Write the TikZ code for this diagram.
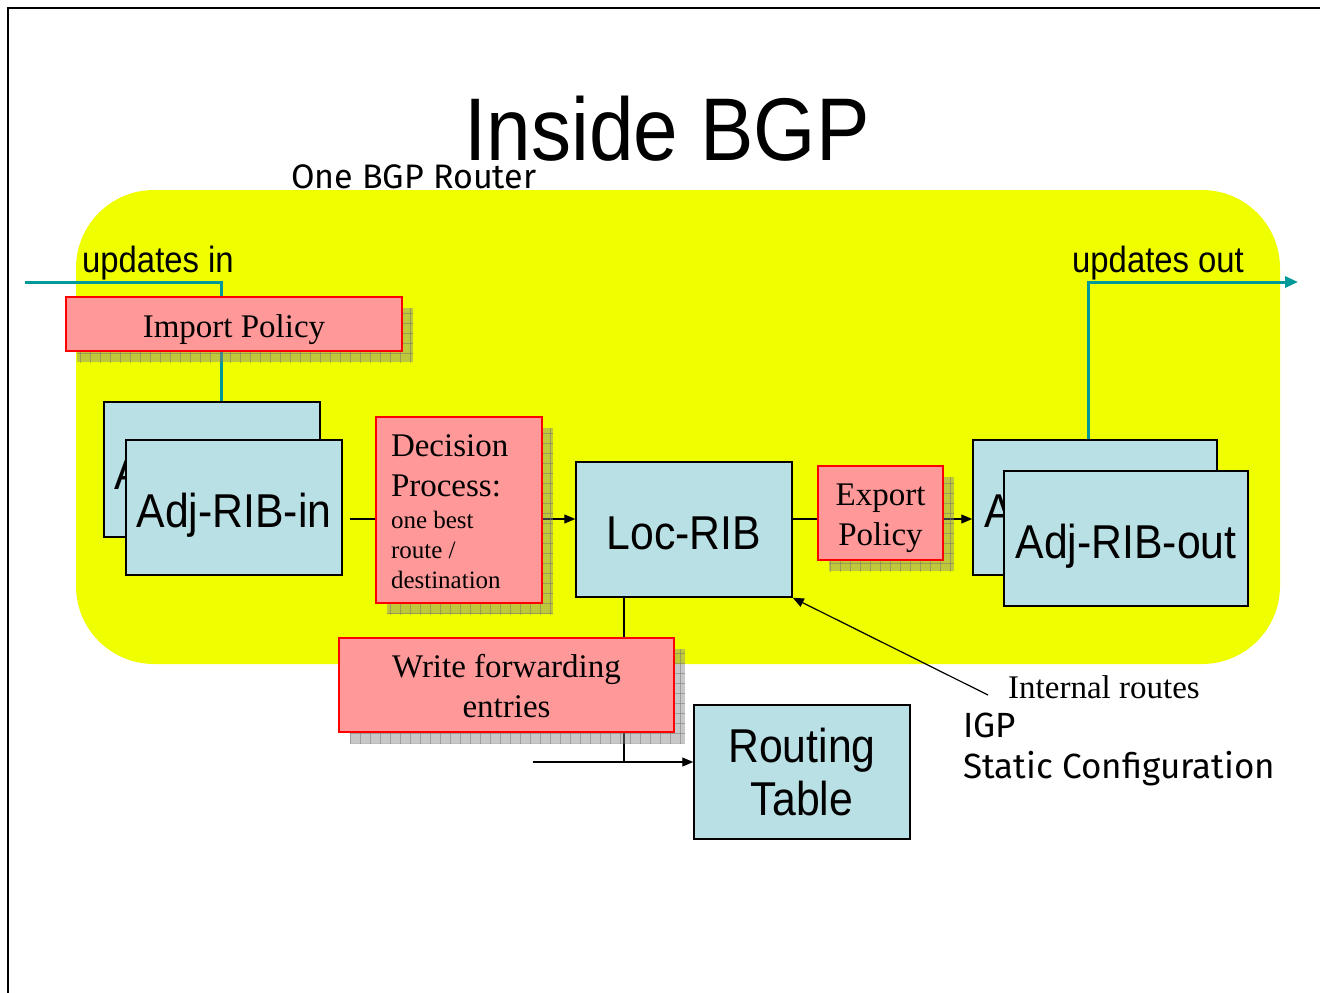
\documentclass[tikz,border=0pt]{standalone}
\usepackage{fontspec}
\usetikzlibrary{arrows.meta,shadows,patterns.meta}
\setmainfont{Liberation Serif}
\newfontfamily\tahoma[FakeStretch=0.9]{Liberation Sans}
\newfontfamily\comic{Fira Sans}

\definecolor{routeryellow}{RGB}{240,255,0}
\definecolor{policypink}{RGB}{255,153,153}
\definecolor{ribblue}{RGB}{185,224,228}
\definecolor{linkteal}{RGB}{0,153,153}
\definecolor{shadowgray}{RGB}{133,133,133}
\definecolor{gridgray}{RGB}{110,110,110}

\pgfdeclarelayer{back}
\pgfdeclarelayer{wires}
\pgfsetlayers{back,wires,main}

% invisible struts that fix the first and last line of two-line box texts
\newcommand{\topstrut}[1]{\rule{0pt}{#1}}
\newcommand{\botstrut}[1]{\rule[-#1]{0pt}{#1}}

\tikzset{
  policy/.style={draw=red, line width=1.5pt, fill=policypink,
    drop shadow={shadow xshift=11pt, shadow yshift=-11pt, fill=shadowgray, opacity=.45,
      postaction={pattern={Lines[distance=10pt,angle=0,line width=.9pt]}, pattern color=gridgray},
      postaction={pattern={Lines[distance=10pt,angle=90,line width=.9pt]}, pattern color=gridgray}},
    inner sep=0pt, align=center, font=\fontsize{33}{40}\selectfont},
  rib/.style={draw=black, line width=1.5pt, fill=ribblue, inner sep=0pt,
    align=center, font=\tahoma\fontsize{47.5}{53}\selectfont},
  ribone/.style={rib, text height=39pt, text depth=0pt},
  link/.style={draw=black, line width=1.2pt},
  linkarrow/.style={link, -{Triangle[length=11pt,width=9pt]}},
  tealwire/.style={draw=linkteal, line width=3pt},
  label/.style={inner sep=0pt, anchor=base west},
}

\begin{document}
\begin{tikzpicture}[x=1pt,y=-1pt]
  \useasboundingbox (0,0) rectangle (1320,993);

  % page, frame and router area
  \begin{pgfonlayer}{back}
    \fill[white] (0,0) rectangle (1320,993);
    \fill[routeryellow, rounded corners=78pt] (76,190) rectangle (1280,664);
  \end{pgfonlayer}
  \draw[line width=2pt] (1320,8) -- (8,8) -- (8,993);

  % titles and labels
  \node[inner sep=0pt, anchor=base, font=\tahoma\fontsize{89}{100}\selectfont] (title) at (667,160) {Inside BGP};
  \node[label, font=\comic\fontsize{34}{40}\selectfont] (router) at (291,188) {One BGP Router};
  \node[label, font=\tahoma\fontsize{36.5}{40}\selectfont] (updin) at (82,272) {updates in};
  \node[label, font=\tahoma\fontsize{36.5}{40}\selectfont] (updout) at (1072,272) {updates out};
  \node[label, font=\fontsize{33}{40}\selectfont] (internal) at (1008,698) {Internal routes};
  \node[label, font=\comic\fontsize{35}{40}\selectfont] (igp) at (963,737) {IGP};
  \node[label, font=\comic\fontsize{35}{40}\selectfont] (static) at (963,778) {Static Configuration};

  % boxes
  \node[policy, minimum width=336pt, minimum height=54pt, text height=26pt, text depth=0pt] (import) at (234,324) {Import Policy};
  \node[ribone, minimum width=216pt, minimum height=135pt] (adjinB) at (212,469.5) {Adj-RIB-in};
  \node[ribone, minimum width=216pt, minimum height=135pt] (adjin) at (234,507.5) {Adj-RIB-in};
  \node[policy, minimum width=166pt, minimum height=186pt, text width=136pt, align=flush left,
        text height=24pt, text depth=132pt] (decision) at (459,510)
    {\fontsize{33}{40}\selectfont Decision\par Process:\par
     \vskip 2pt
     \fontsize{25}{30}\selectfont one best\par route /\par destination\par};
  \node[ribone, minimum width=216pt, minimum height=135pt] (locrib) at (684,529.5) {Loc-RIB};
  \node[policy, minimum width=125pt, minimum height=94pt] (export) at (880.5,513)
    {\topstrut{32pt}Export\\Policy\botstrut{8pt}};
  \node[ribone, minimum width=244pt, minimum height=135pt] (adjoutB) at (1095,507.5) {Adj-RIB-out};
  \node[ribone, minimum width=244pt, minimum height=135pt] (adjout) at (1126,538.5) {Adj-RIB-out};
  \node[policy, minimum width=335pt, minimum height=94pt] (writefw) at (506.5,685)
    {\topstrut{32pt}Write forwarding\\entries\botstrut{8pt}};
  \node[rib, minimum width=216pt, minimum height=134pt] (rt) at (802,772)
    {\topstrut{40pt}Routing\\Table\botstrut{7pt}};

  % connector anchors
  \coordinate (axis) at (0,519);
  \coordinate (inStart) at (25,282);
  \coordinate (inCorner) at (221,282);
  \coordinate (outCorner) at (1088,282);
  \coordinate (outEnd) at (1298,282);
  \coordinate (wfDrop) at (624,762);
  \coordinate (rtFeed) at (533,762);
  \coordinate (igpEnd) at (988,695);

  \begin{pgfonlayer}{wires}
    \draw[tealwire] (inStart) -- (inCorner) -- (inCorner |- adjinB.north);
    \draw[tealwire, -{Triangle[length=13pt,width=11pt]}] (outCorner |- adjoutB.north) -- (outCorner) -- (outEnd);
    \draw[link, shorten <=7pt] (adjin.east |- axis) -- (decision.west |- axis);
    \draw[linkarrow] (decision.east |- axis) -- (locrib.west |- axis);
    \draw[link] (locrib.east |- axis) -- (export.west |- axis);
    \draw[linkarrow] (export.east |- axis) -- (adjoutB.west |- axis);
    \draw[link] (locrib.south -| wfDrop) -- (wfDrop);
    \draw[linkarrow] (rtFeed) -- (rtFeed -| rt.west);
  \end{pgfonlayer}
  \draw[linkarrow] (igpEnd) -- (locrib.south east);
\end{tikzpicture}
\end{document}
